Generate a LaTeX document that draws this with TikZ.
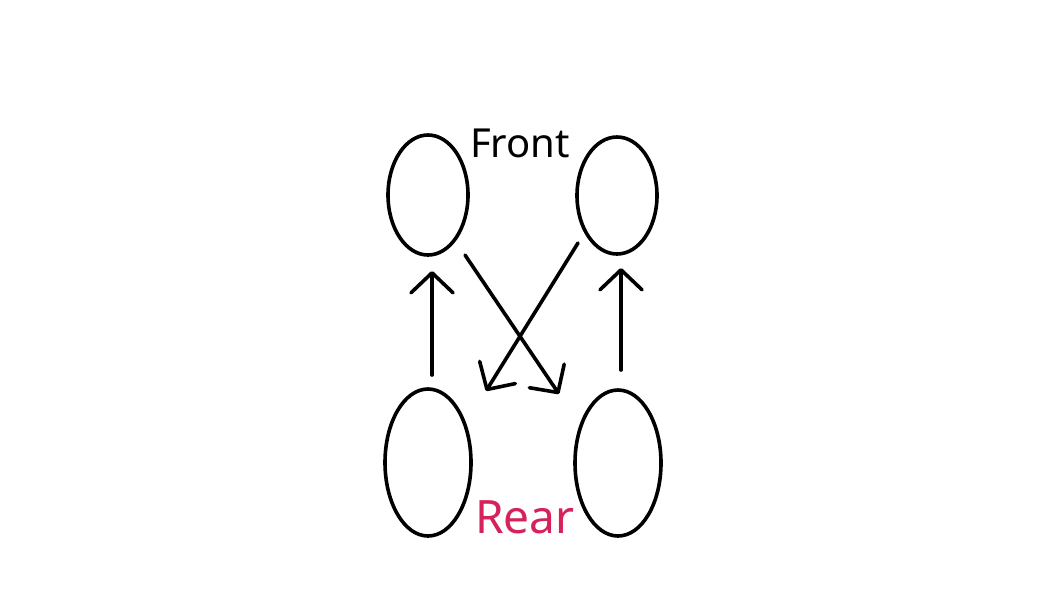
\documentclass[tikz,border=0pt]{standalone}
\usepackage{fontspec}
\setmainfont{Noto Sans}
\usetikzlibrary{shapes.geometric,arrows.meta}
\definecolor{rearred}{RGB}{214,34,90}
\tikzset{
  wheel/.style={ellipse, draw=black, line width=3.6pt, inner sep=0pt},
  move/.style={line width=3.6pt, line cap=round, line join=round,
    -{Straight Barb[length=20pt, width=42pt, line width=3.6pt, round]}},
  lbl/.style={anchor=base, inner sep=0pt}
}
\begin{document}
\begin{tikzpicture}[x=1pt,y=-1pt]
\useasboundingbox (0,0) rectangle (1064,600);
\fill[white] (0,0) rectangle (1064,600);
\node[wheel, minimum width=80pt, minimum height=120pt] (fl) at (428,195) {};
\node[wheel, minimum width=80pt, minimum height=117pt] (fr) at (617,195.5) {};
\node[wheel, minimum width=86pt, minimum height=147pt] (rl) at (428,462.5) {};
\node[wheel, minimum width=86pt, minimum height=146pt] (rr) at (618,463) {};
\node[lbl, font=\fontsize{40}{48}\selectfont] (front) at (520,157) {Front};
\node[lbl, font=\fontsize{46}{55}\selectfont, text=rearred] (rear) at (525,533) {Rear};
\coordinate (a1s) at (432,375);
\coordinate (a1e) at (432,271);
\coordinate (a2s) at (621,370);
\coordinate (a2e) at (621,268);
\coordinate (a3s) at (465,255);
\coordinate (a3e) at (559,394);
\coordinate (a4s) at (578,243);
\coordinate (a4e) at (486,391);
\draw[move] (a1s) -- (a1e);
\draw[move] (a2s) -- (a2e);
\draw[move] (a3s) -- (a3e);
\draw[move] (a4s) -- (a4e);
\end{tikzpicture}
\end{document}
